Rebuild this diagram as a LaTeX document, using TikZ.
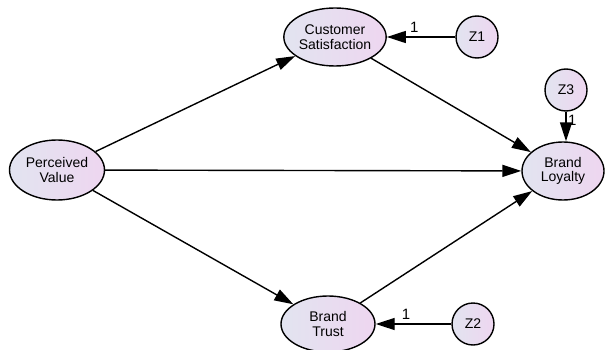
\documentclass[tikz,border=0pt]{standalone}
\usepackage{fontspec}
\setmainfont{Liberation Sans}
\usetikzlibrary{arrows.meta,shapes.geometric}
\definecolor{lblue}{RGB}{226,228,240}
\definecolor{lpink}{RGB}{238,214,240}
\tikzset{
  latent/.style={ellipse, draw=black, line width=1.4pt, left color=lblue, right color=lpink,
    inner sep=0pt, align=center, font=\fontsize{14}{14.5}\selectfont},
  errv/.style={circle, draw=black, line width=1.4pt, left color=lblue, right color=lpink,
    inner sep=0pt, minimum size=42pt, font=\fontsize{14}{14.5}\selectfont},
  path/.style={draw=black, line width=1.4pt, -{Triangle[length=19pt,width=12pt]}},
  wt/.style={font=\fontsize{15}{15}\selectfont, inner sep=2pt}
}
\begin{document}
\begin{tikzpicture}[x=1pt,y=1pt]
\useasboundingbox (0,0) rectangle (605,349);
\node[latent, minimum width=95pt, minimum height=60pt] (pv) at (57,179) {Perceived\\Value};
\node[latent, minimum width=96pt, minimum height=58pt] (cs) at (335,312) {Customer\\Satisfaction};
\node[latent, minimum width=94pt, minimum height=56pt] (bt) at (328,25) {Brand\\Trust};
\node[latent, minimum width=82pt, minimum height=58pt] (bl) at (563,178) {Brand\\Loyalty};
\node[errv] (z1) at (477,312) {Z1};
\node[errv] (z2) at (473,25) {Z2};
\node[errv] (z3) at (566,259) {Z3};
\draw[path] (pv) -- (cs);
\draw[path] (pv) -- (bl);
\draw[path] (pv) -- (bt);
\draw[path] (cs) -- (bl);
\draw[path] (bt) -- (bl);
\draw[path] (z1) -- node[wt, pos=0.6, above, yshift=1.5pt] {1} (cs);
\draw[path] (z2) -- node[wt, pos=0.6, above, yshift=1.5pt] {1} (bt);
\draw[path] (z3.south) -- node[wt, pos=0.3, right, inner sep=1.5pt] {1} (z3.south |- bl.north);
\end{tikzpicture}
\end{document}
